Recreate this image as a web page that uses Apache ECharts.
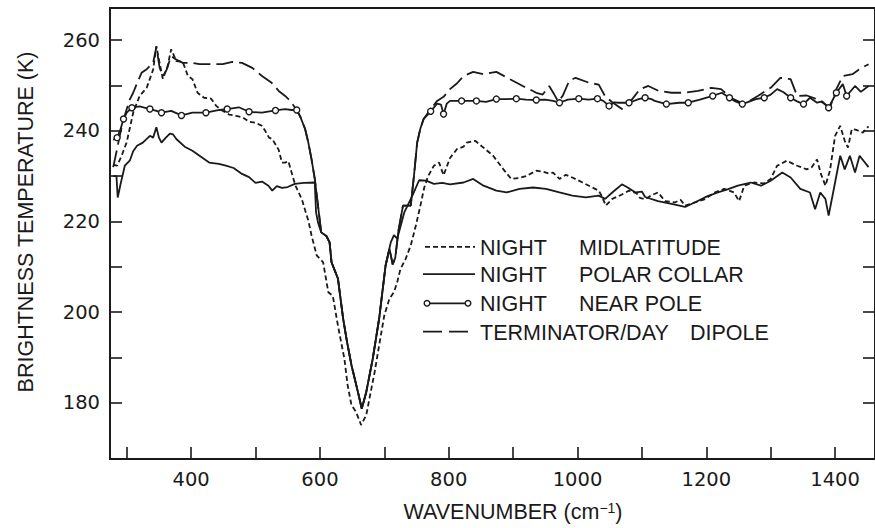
<!DOCTYPE html>
<html>
<head>
<meta charset="utf-8">
<script src="https://cdn.jsdelivr.net/npm/echarts@6/dist/echarts.min.js"></script>
<style>
  html, body { margin: 0; padding: 0; background: #ffffff; }
  #chart { width: 875px; height: 528px; }
</style>
</head>
<body>
<div id="chart"></div>
<script>
// Brightness temperature spectra, pairs of [wavenumber (cm^-1), temperature (K)]
const midlatitude = [
  [279, 232.5], [285, 232.3], [292, 234.5], [300, 237.5], [310, 244], [320, 247.7], [331, 249.5],
  [341, 253.5], [346, 258.7], [351, 255], [356, 251.5], [363, 254], [369, 258], [377, 255.4],
  [387, 255.2], [395, 252.1], [402, 251.4], [410, 248.4], [420, 247.3], [431, 247.1], [439, 245.5],
  [448, 244.5], [459, 243.6], [470, 243.3], [480, 243], [490, 242], [500, 241.8], [510, 241.1],
  [515, 240], [521, 238.5], [526, 238.2], [536, 235.8], [541, 233], [546, 233], [551, 233.3],
  [556, 230.8], [562, 227.9], [567, 226.4], [572, 224.9], [577, 222.5], [582, 220.2], [587, 216.9],
  [595, 212.5], [605, 211], [613, 204.4], [620, 203.6], [628, 197], [638, 189.7], [643, 183.9],
  [649, 179.5], [656, 178], [664, 175.1], [672, 177.3], [677, 181], [685, 186.8], [692, 192.7],
  [700, 199.3], [708, 203], [715, 204.4], [720, 206.6], [725, 209.5], [733, 211.7], [741, 214.7],
  [749, 219.1], [756, 223.5], [762, 227.5], [768, 230], [777, 232.3], [785, 233], [792, 230.2],
  [802, 234], [813, 236], [823, 236.5], [828, 237.4], [841, 237.8], [854, 236.3], [869, 234.5],
  [885, 231.5], [897, 229.4], [910, 229.6], [920, 230], [936, 231.2], [946, 231], [955, 230.6],
  [962, 230.8], [972, 229.4], [982, 230.3], [992, 229.7], [1008, 228.6], [1023, 227.5], [1033, 226.8],
  [1038, 225.5], [1044, 223.5], [1054, 225], [1064, 225.6], [1080, 226.8], [1092, 226.2], [1097, 225.2],
  [1105, 224.9], [1115, 225.8], [1125, 226.4], [1136, 224.5], [1151, 224.2], [1160, 224.8], [1167, 223.5],
  [1182, 224.2], [1197, 224.9], [1213, 226.4], [1228, 227.2], [1243, 226.4], [1251, 224.5], [1259, 227.9],
  [1274, 228.6], [1290, 228.4], [1300, 229.4], [1310, 232.3], [1325, 233.4], [1341, 232.3], [1356, 231.5],
  [1364, 232], [1372, 233.7], [1378, 230.5], [1385, 227.9], [1392, 231.2], [1400, 238.9], [1408, 241.1],
  [1415, 237.8], [1420, 236.3], [1426, 240.4], [1433, 240.2], [1443, 239.6], [1452, 241]
];

const polarCollar = [
  [279, 230], [284, 230], [286, 225.3], [290, 228], [297, 232.3], [305, 233.5], [310, 235.5],
  [316, 236.7], [325, 237.4], [336, 238.9], [341, 238.5], [346, 240.8], [350, 238.5], [354, 237.4],
  [360, 238.4], [367, 239.4], [372, 239.2], [377, 238.2], [390, 236.5], [402, 235.6], [413, 234.5],
  [428, 233], [443, 232.7], [454, 232.3], [466, 231.8], [479, 230.5], [490, 229.8], [500, 228.5],
  [510, 228.8], [520, 227.9], [526, 226.8], [533, 227.8], [541, 227.4], [550, 227.6], [561, 228.3],
  [575, 228.5], [592, 228.6], [594, 222], [597, 219.8], [602, 217.6], [610, 216.8], [615, 215.4],
  [618, 211], [628, 207.4], [636, 198.6], [642, 193.5], [649, 188.3], [659, 182.4], [665, 178.7],
  [672, 182.4], [682, 189.7], [692, 198.6], [702, 210.3], [710, 215.4], [715, 217], [720, 216.2],
  [731, 222], [744, 225.8], [754, 229.1], [765, 229], [777, 228.3], [790, 228.5], [802, 228.2],
  [823, 228.6], [838, 229.4], [854, 227.9], [874, 226.8], [890, 226.4], [910, 227.2], [931, 227.5],
  [951, 227.2], [972, 226.4], [992, 225.7], [1013, 225.3], [1033, 225.7], [1043, 225], [1054, 226.4],
  [1069, 228.2], [1078, 227.5], [1090, 226.4], [1100, 226.6], [1105, 225.4], [1125, 224.5], [1146, 223.9],
  [1167, 223.2], [1182, 224.2], [1202, 225.6], [1218, 226.4], [1233, 227.1], [1249, 227.9], [1269, 228.6],
  [1285, 227.9], [1300, 229], [1318, 230.8], [1331, 229.7], [1346, 227.2], [1361, 226.4], [1369, 222.7],
  [1377, 226.4], [1385, 225], [1390, 221.3], [1397, 226.4], [1408, 234.5], [1415, 231.5], [1423, 234.5],
  [1431, 230.8], [1438, 234.5], [1452, 232]
];

const nearPole = [
  [279, 238], [285, 238.5], [290, 240.2], [295, 242.6], [300, 244], [308, 245.1], [320, 245.4],
  [336, 244.8], [346, 244.4], [354, 244], [369, 244.4], [385, 243.4], [402, 244], [423, 244],
  [444, 244.6], [456, 244.8], [474, 245.2], [490, 244.2], [510, 244], [531, 244.5], [546, 244.8],
  [556, 244.6], [564, 244.6], [569, 243.3], [577, 240.4], [582, 237.4], [587, 233.7], [592, 229.4],
  [597, 223.5], [602, 217.6], [610, 216.8], [615, 215.4], [618, 211], [628, 207.4], [636, 198.6],
  [642, 193.5], [649, 188.3], [659, 182.4], [665, 178.7], [672, 182.4], [682, 189.7], [692, 198.6],
  [702, 210.3], [708, 214], [713, 210.5], [717, 212], [722, 218], [729, 223.5], [741, 223.5],
  [746, 230], [751, 237.4], [756, 240.5], [761, 242.6], [772, 244.3], [782, 246], [788, 245.8],
  [792, 243.7], [797, 246], [802, 246.6], [820, 246.6], [843, 246.6], [858, 246.4], [874, 247],
  [890, 247], [905, 247.1], [920, 246.9], [936, 246.8], [950, 246.9], [962, 246.6], [972, 246.2],
  [985, 246.9], [1002, 247.1], [1017, 246.9], [1031, 247.1], [1040, 246.6], [1049, 245.5], [1057, 246.3],
  [1064, 246.2], [1080, 246.2], [1095, 247], [1105, 247.3], [1115, 247], [1120, 246.6], [1138, 245.9],
  [1158, 246.2], [1172, 246.2], [1190, 246.9], [1210, 247.7], [1224, 248.4], [1236, 247.3], [1245, 246.5],
  [1256, 245.9], [1277, 247], [1290, 247.3], [1300, 248], [1310, 249.2], [1320, 248.5], [1331, 247.3],
  [1341, 246.5], [1351, 245.9], [1361, 247.3], [1372, 246.2], [1380, 246.5], [1390, 245.1], [1402, 248.4],
  [1412, 250.3], [1418, 247.7], [1431, 249.9], [1440, 248.6], [1452, 249.9]
];

// wavenumbers on the near-pole trace that carry an open circle
const nearPoleMarkerWn = [
  285, 295, 308, 336, 354, 385, 423, 456, 490, 531, 564, 772, 792, 820, 843, 874, 905, 936, 972,
  1002, 1031, 1049, 1080, 1105, 1138, 1172, 1210, 1236, 1256, 1290, 1331, 1351, 1390, 1402, 1418
];

const terminatorDipole = [
  [279, 232], [285, 236], [290, 239.5], [295, 242.5], [300, 244.8], [305, 247], [310, 248.4],
  [316, 250.5], [323, 252.8], [331, 253.6], [341, 255], [346, 258.5], [351, 254], [356, 252],
  [362, 253.5], [369, 256.5], [377, 255.7], [387, 255], [402, 255], [413, 254.7], [428, 254.7],
  [449, 254.7], [464, 255.2], [479, 255], [495, 253.9], [510, 252.1], [525, 250.6], [536, 248.8],
  [546, 247.7], [554, 246.6], [562, 245], [569, 243.3], [577, 240.4], [582, 237.4], [587, 233.7],
  [592, 229.4], [597, 223.5], [602, 217.6], [610, 216.8], [615, 215.4], [618, 211], [628, 207.4],
  [636, 198.6], [642, 193.5], [649, 188.3], [659, 182.4], [665, 178.7], [672, 182.4], [682, 189.7],
  [692, 198.6], [702, 210.3], [708, 214], [713, 210.5], [717, 212], [722, 218], [729, 223.5],
  [741, 223.5], [746, 230], [751, 237.4], [756, 240.5], [761, 242.6], [772, 244.8], [782, 246.6],
  [792, 247.5], [802, 249.2], [813, 250.5], [823, 252.1], [838, 253], [854, 252.5], [874, 253],
  [895, 251.4], [915, 249.9], [936, 248.4], [946, 248], [956, 249.9], [964, 248], [970, 246.5],
  [977, 247.7], [987, 251], [997, 251.7], [1018, 250.6], [1033, 250.2], [1043, 247.6], [1054, 246.3],
  [1069, 244.8], [1085, 247], [1097, 249.2], [1110, 249.9], [1126, 248.8], [1146, 248.4], [1166, 248.4],
  [1187, 248.8], [1208, 249.5], [1223, 249.2], [1238, 247.3], [1259, 245.9], [1280, 247.7], [1300, 249.5],
  [1315, 251.7], [1331, 251.4], [1341, 247.7], [1356, 247.8], [1366, 247.3], [1378, 246.5], [1392, 245.1],
  [1402, 249.2], [1412, 252.1], [1427, 252.5], [1438, 253.6], [1452, 254.7]
];

// axis ticks and labels
const xLabelValues = [400, 600, 800, 1000, 1200, 1400];
const xTickValues = [300, 400, 500, 600, 700, 800, 900, 1000, 1100, 1200, 1300, 1400];
const yLabelValues = [180, 200, 220, 240, 260];
const yTickValues = [180, 190, 200, 210, 220, 230, 240, 250, 260];

// legend text
const legendGroups = ['NIGHT', 'NIGHT', 'NIGHT', 'TERMINATOR/DAY'];
const legendRegions = ['MIDLATITUDE', 'POLAR COLLAR', 'NEAR POLE', 'DIPOLE'];

const INK = '#1a1a1a';
const TEXT_FONT = '"Liberation Sans", Arial, Helvetica, sans-serif';
const NUM_FONT = '"DejaVu Sans", "Liberation Sans", sans-serif';
const LINE_W = 1.8;
const DASH_SHORT = [5, 3];
const DASH_LONG = [17, 6];

const chart = echarts.init(document.getElementById('chart'), null, { renderer: 'svg' });

const X_MIN = 274, X_MAX = 1462, Y_MIN = 167.6, Y_MAX = 267.1;

const axisLineStyle = { color: INK, width: 1.8 };
const plainNumber = function (v) { return String(v); };

function yAxisBase(position, showLabels) {
  return {
    type: 'value',
    position: position,
    min: Y_MIN,
    max: Y_MAX,
    axisLine: { show: true, onZero: false, lineStyle: axisLineStyle },
    axisTick: { show: true, inside: true, length: 12, customValues: yTickValues, lineStyle: { color: INK, width: 1.6 } },
    axisLabel: {
      show: showLabels,
      customValues: yLabelValues,
      formatter: plainNumber,
      margin: 10,
      color: INK,
      fontFamily: NUM_FONT,
      fontSize: 19.5
    },
    splitLine: { show: false }
  };
}

const leftAxis = yAxisBase('left', true);
leftAxis.name = 'BRIGHTNESS TEMPERATURE (K)';
leftAxis.nameLocation = 'middle';
leftAxis.nameRotate = 90;
leftAxis.nameGap = 73;
leftAxis.nameTextStyle = { color: INK, fontFamily: TEXT_FONT, fontSize: 21.5, padding: [0, 0, 0, 23] };

const rightAxis = yAxisBase('right', false);

// legend drawn as small graphic samples beside the text
const rowY = [246.8, 274.2, 303.3, 331.7];
const legendGraphics = [];
legendGraphics.push({ type: 'line', shape: { x1: 425, y1: rowY[0], x2: 475, y2: rowY[0] },
  style: { stroke: INK, lineWidth: LINE_W, lineDash: DASH_SHORT } });
legendGraphics.push({ type: 'line', shape: { x1: 423, y1: rowY[1], x2: 475, y2: rowY[1] },
  style: { stroke: INK, lineWidth: LINE_W } });
legendGraphics.push({ type: 'line', shape: { x1: 427, y1: rowY[2], x2: 468, y2: rowY[2] },
  style: { stroke: INK, lineWidth: LINE_W } });
legendGraphics.push({ type: 'circle', z: 10, shape: { cx: 427, cy: rowY[2], r: 2.8 },
  style: { fill: '#fff', stroke: INK, lineWidth: 1.4 } });
legendGraphics.push({ type: 'circle', z: 10, shape: { cx: 468, cy: rowY[2], r: 2.8 },
  style: { fill: '#fff', stroke: INK, lineWidth: 1.4 } });
legendGraphics.push({ type: 'line', shape: { x1: 423, y1: rowY[3], x2: 472, y2: rowY[3] },
  style: { stroke: INK, lineWidth: LINE_W, lineDash: [19, 7] } });

const regionX = [579, 579, 579, 690];
for (let i = 0; i < 4; i++) {
  legendGraphics.push({
    type: 'text', x: 480, y: rowY[i] + 0.8,
    style: { text: legendGroups[i], fill: INK, font: '21.5px ' + TEXT_FONT,
      align: 'left', verticalAlign: 'middle', textAlign: 'left', textVerticalAlign: 'middle' }
  });
  legendGraphics.push({
    type: 'text', x: regionX[i], y: rowY[i] + 0.8,
    style: { text: legendRegions[i], fill: INK, font: '21.5px ' + TEXT_FONT,
      align: 'left', verticalAlign: 'middle', textAlign: 'left', textVerticalAlign: 'middle' }
  });
}

function traceSeries(name, data, dash, z) {
  return {
    name: name,
    type: 'line',
    data: data,
    symbol: 'none',
    showSymbol: false,
    silent: true,
    z: z,
    lineStyle: { color: INK, width: LINE_W, type: dash || 'solid' }
  };
}

const option = {
  animation: false,
  backgroundColor: '#ffffff',
  grid: { left: 110, top: 8, right: -7, bottom: 67.5, show: true, borderColor: INK, borderWidth: 1.8, backgroundColor: 'transparent' },
  xAxis: {
    type: 'value',
    min: X_MIN,
    max: X_MAX,
    name: '{t|WAVENUMBER (cm}{s|\u22121}{t|)}',
    nameLocation: 'middle',
    nameGap: 42,
    nameTextStyle: {
      padding: [0, 0, 0, 41],
      rich: {
        t: { color: INK, fontFamily: TEXT_FONT, fontSize: 21.5 },
        s: { color: INK, fontFamily: TEXT_FONT, fontSize: 14, verticalAlign: 'top' }
      }
    },
    axisLine: { show: true, onZero: false, lineStyle: axisLineStyle },
    axisTick: { show: true, inside: true, length: 12, customValues: xTickValues, lineStyle: { color: INK, width: 1.6 } },
    axisLabel: { customValues: xLabelValues, formatter: plainNumber, margin: 10, color: INK, fontFamily: NUM_FONT, fontSize: 19.5 },
    splitLine: { show: false }
  },
  yAxis: [leftAxis, rightAxis],
  series: [
    traceSeries('NIGHT MIDLATITUDE', midlatitude, DASH_SHORT, 3),
    traceSeries('NIGHT POLAR COLLAR', polarCollar, null, 4),
    traceSeries('NIGHT NEAR POLE', nearPole, null, 5),
    traceSeries('TERMINATOR/DAY DIPOLE', terminatorDipole, DASH_LONG, 2),
    {
      name: 'NIGHT NEAR POLE markers',
      type: 'scatter',
      data: nearPole.filter(function (p) { return nearPoleMarkerWn.indexOf(p[0]) >= 0; }),
      symbol: 'circle',
      symbolSize: 6,
      silent: true,
      z: 6,
      itemStyle: { color: '#ffffff', borderColor: INK, borderWidth: 1.4, opacity: 1 }
    }
  ],
  graphic: legendGraphics
};

chart.setOption(option);
</script>
</body>
</html>
